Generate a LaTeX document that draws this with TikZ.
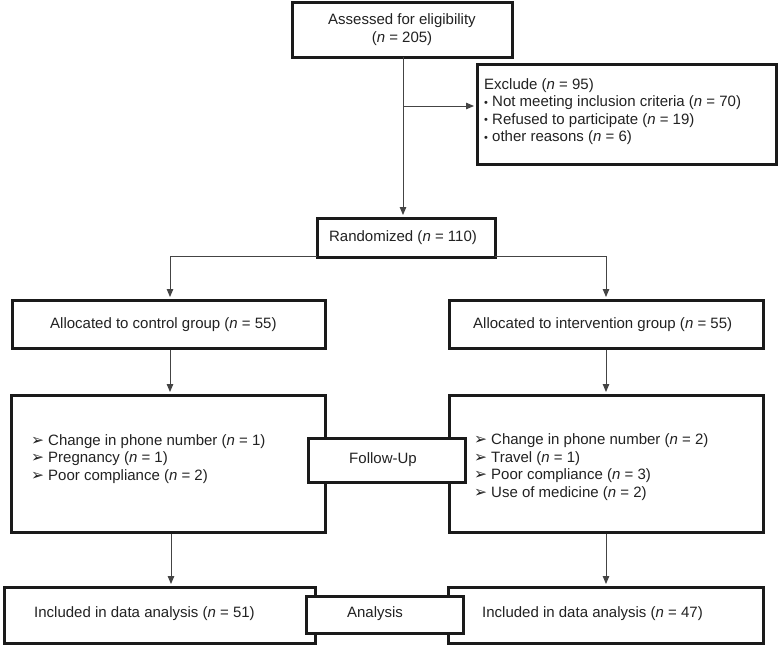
\documentclass[tikz,border=0pt]{standalone}
\usepackage{fontspec}
\setmainfont{Liberation Sans}
\newfontfamily\djv{DejaVu Sans}
\usetikzlibrary{arrows.meta}
\newcommand{\arw}{{\djv\fontsize{15.5}{15.5}\selectfont ➢}\hspace{4pt}}
\newcommand{\bul}{{\fontsize{11}{11}\selectfont\raisebox{0.5pt}{\textbullet}}}
\newcommand{\nn}{\textit{n}}
\definecolor{ink}{HTML}{1A1A1A}
\definecolor{txt}{HTML}{222222}
\definecolor{lnk}{HTML}{444444}
\begin{document}
\begin{tikzpicture}[x=1pt,y=-1pt,
  font=\fontsize{15}{17.5}\selectfont, text=txt,
  box/.style={draw=ink, line width=3pt, fill=white, inner sep=0pt, align=center},
  lbl/.style={inner sep=0pt, align=left, anchor=west},
  conn/.style={draw=lnk, line width=1pt, -{Triangle[length=8pt,width=6.5pt]}, shorten >=1.5pt}]
\useasboundingbox (0,0) rectangle (781,645);

% boxes
\node[box, minimum width=220pt, minimum height=55pt] (assess) at (402,29.5)
  {Assessed for eligibility\\(\nn{} = 205)};
\node[box, minimum width=299pt, minimum height=100pt] (excl) at (626.5,114) {};
\node[box, minimum width=178pt, minimum height=39pt] (rand) at (406,237.5)
  {\hspace{-6pt}Randomized (\nn{} = 110)};
\node[box, minimum width=313pt, minimum height=48pt] (ctrl) at (168.5,324) {};
\node[box, minimum width=314pt, minimum height=48pt] (intv) at (606,324) {};
\node[box, minimum width=314pt, minimum height=137pt] (fuL) at (168,463.5) {};
\node[box, minimum width=314pt, minimum height=137pt] (fuR) at (606,463.5) {};
\node[box, minimum width=157pt, minimum height=44pt] (fu) at (386.5,460) {};
\node[box, minimum width=311pt, minimum height=56pt] (anL) at (159.5,615) {};
\node[box, minimum width=315pt, minimum height=56pt] (anR) at (605.5,615) {};
\node[box, minimum width=157pt, minimum height=37pt] (an) at (384.5,614.5) {};

% texts
\node[lbl, text depth=0pt] (exclt) at (484,110) {\fontsize{15}{18}\selectfont
  Exclude (\nn{} = 95)\\
  \bul{} Not meeting inclusion criteria (\nn{} = 70)\\
  \bul{} Refused to participate (\nn{} = 19)\\
  \bul{} other reasons (\nn{} = 6)};
\node[lbl] (ctrlt) at (50,325) {Allocated to control group (\nn{} = 55)};
\node[lbl] (intvt) at (473,325) {Allocated to intervention group (\nn{} = 55)};
\node[lbl] (fuLt) at (31,459) {\arw Change in phone number (\nn{} = 1)\\
  \arw Pregnancy (\nn{} = 1)\\
  \arw Poor compliance (\nn{} = 2)};
\node[lbl] (fuRt) at (474,467) {\arw Change in phone number (\nn{} = 2)\\
  \arw Travel (\nn{} = 1)\\
  \arw Poor compliance (\nn{} = 3)\\
  \arw Use of medicine (\nn{} = 2)};
\node[inner sep=0pt] (fut) at (383,460) {Follow-Up};
\node[lbl] (anLt) at (34,614) {Included in data analysis (\nn{} = 51)};
\node[lbl] (anRt) at (482,614) {Included in data analysis (\nn{} = 47)};
\node[inner sep=0pt] (ant) at (375,614) {Analysis};

% connectors
\coordinate (top) at (403,57);
\coordinate (jx) at (403,106);
\draw[conn] (top) -- (top |- rand.north);
\draw[conn] (jx) -- (jx -| excl.west);
\coordinate (rl) at (317,256);
\coordinate (rr) at (495,256);
\coordinate (cl) at (170,300);
\coordinate (cr) at (606,300);
\draw[conn] (rl) -| (ctrl.north -| cl);
\draw[conn] (rr) -| (intv.north -| cr);
\draw[conn] (ctrl.south -| cl) -- (fuL.north -| cl);
\draw[conn] (intv.south -| cr) -- (fuR.north -| cr);
\coordinate (dl) at (171,532);
\draw[conn] (fuL.south -| dl) -- (anL.north -| dl);
\draw[conn] (fuR.south -| cr) -- (anR.north -| cr);
\end{tikzpicture}
\end{document}
